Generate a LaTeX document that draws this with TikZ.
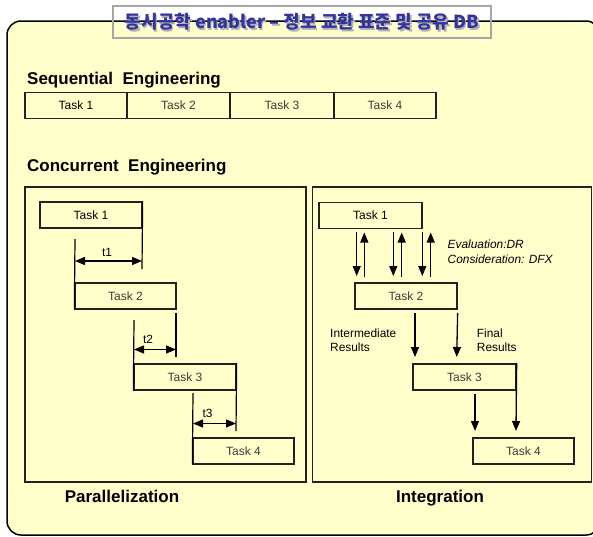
\documentclass[tikz,border=0pt]{standalone}
\usepackage{fontspec}
\setmainfont{Liberation Sans}
\newfontfamily\kor{Noto Sans CJK KR}
\usetikzlibrary{arrows.meta}
\definecolor{paper}{HTML}{FFFFCC}
\definecolor{titleblue}{HTML}{3333A0}
\definecolor{edge}{HTML}{222222}
\definecolor{soft}{HTML}{3A3A3A}
\tikzset{
  taskbox/.style={draw=edge, line width=1.3pt, minimum height=26pt, inner sep=0pt,
    font=\fontsize{12}{14}\selectfont, text=soft},
  firsttask/.style={taskbox, text=black},
  panel/.style={draw=edge, line width=1.2pt},
  guide/.style={draw=black, line width=1.2pt},
  flow/.style={draw=black, line width=1.3pt, -{Triangle[length=10pt,width=8pt]}},
  dimline/.style={draw=black, line width=1.3pt,
    {Triangle[length=10pt,width=8pt]}-{Triangle[length=10pt,width=8pt]}},
  heading/.style={font=\fontsize{17}{19}\selectfont\bfseries, inner sep=0pt, anchor=base west},
  caption/.style={font=\fontsize{17}{19}\selectfont\bfseries, inner sep=0pt, anchor=base},
  note/.style={font=\fontsize{11.9}{14}\selectfont, inner sep=0pt, anchor=base west},
  dimlabel/.style={font=\fontsize{11.9}{14}\selectfont, inner sep=0pt},
  titletext/.style={font=\kor\bfseries\fontsize{18}{20}\selectfont, inner sep=0pt},
}
\begin{document}
\begin{tikzpicture}[x=1pt, y=-1pt]
\useasboundingbox (0,0) rectangle (593,536);
\clip (0,0) rectangle (593,536);

% sheet
\draw[fill=paper, line width=1.5pt, rounded corners=14pt] (7,21) rectangle (600,535);

% title banner with drop shadow
\draw[draw=gray!70, line width=1.5pt] (113,6) rectangle (491,38);
\node[titletext, text=gray!60] at (303.5,23.5)
  {동시공학 enabler – 정보 교환 표준 및 공유 DB};
\node[titletext, text=titleblue] (title) at (302,22)
  {동시공학 enabler – 정보 교환 표준 및 공유 DB};

% sequential engineering
\node[heading] (seqhead) at (27,84) {Sequential\ \ Engineering};
\node[firsttask, minimum width=102pt] (s1) at (76,105.5) {Task 1};
\node[taskbox, minimum width=103pt] (s2) at (178.5,105.5) {Task 2};
\node[taskbox, minimum width=104pt] (s3) at (282,105.5) {Task 3};
\node[taskbox, minimum width=102pt] (s4) at (385,105.5) {Task 4};

% concurrent engineering
\node[heading] (conhead) at (27,171.5) {Concurrent\ \ Engineering};
\draw[panel] (25,187) rectangle (306,482);
\draw[panel] (312.5,187) rectangle (591.5,482);

% parallelization panel
\node[firsttask, minimum width=102pt] (p1) at (91,215) {Task 1};
\node[taskbox, minimum width=101pt] (p2) at (125.5,296) {Task 2};
\node[taskbox, minimum width=102pt] (p3) at (185,377) {Task 3};
\node[taskbox, minimum width=101pt] (p4) at (243.5,451) {Task 4};

\coordinate (g1top) at (75,239);
\coordinate (g1end) at (142,269);
\coordinate (g2top) at (134,320);
\coordinate (g2beg) at (176,312.5);
\coordinate (g2end) at (176,357);
\coordinate (g3top) at (193,393);
\coordinate (g3end) at (236,431);
\draw[guide] (g1top) -- (p2.south west);
\draw[guide] (p1.north east) -- (g1end);
\draw[guide] (g2top) -- (p3.south west);
\draw[guide] (g2beg) -- (g2end);
\draw[guide] (g3top) -- (p4.south west);
\draw[guide] (p3.north east) -- (g3end);

\coordinate (d1a) at (75,261);   \coordinate (d1b) at (142,261);
\coordinate (d2a) at (134,349.5); \coordinate (d2b) at (176,349.5);
\coordinate (d3a) at (193,423.5); \coordinate (d3b) at (236,423.5);
\draw[dimline] (d1a) -- (d1b);
\draw[dimline] (d2a) -- (d2b);
\draw[dimline] (d3a) -- (d3b);
\node[dimlabel] (t1) at (107,252) {t1};
\node[dimlabel] (t2) at (148,339.5) {t2};
\node[dimlabel] (t3) at (207.5,413.5) {t3};

\node[caption] (partext) at (122,502.5) {Parallelization};

% integration panel
\node[firsttask, minimum width=103pt] (i1) at (370.5,215.5) {Task 1};
\node[taskbox, minimum width=102pt] (i2) at (406,296) {Task 2};
\node[taskbox, minimum width=103pt] (i3) at (464.5,377) {Task 3};
\node[taskbox, minimum width=101pt] (i4) at (523.5,451) {Task 4};

% design reviews between task 1 and task 2
\foreach \dx/\ux in {356.7/364.3, 393.3/401.7, 422.3/430.7}{
  \draw[flow] (\dx,231.5) -- (\dx,276);
  \draw[flow] (\ux,277) -- (\ux,232.5);
}
\node[note, font=\fontsize{11.9}{14}\selectfont\itshape] (eval) at (447.5,248.5) {Evaluation:DR};
\node[note, font=\fontsize{11.9}{14}\selectfont\itshape] (cons) at (447.5,263) {Consideration: DFX};

% result hand-over
\coordinate (r1a) at (415,312.5);   \coordinate (r1b) at (415,357);
\coordinate (r2b) at (456.7,357);
\draw[flow] (r1a) -- (r1b);
\draw[flow] (i2.south east) ++(0,3.2) -- (r2b);
\node[note] (inter1) at (330,337) {Intermediate};
\node[note] (inter2) at (330,351.6) {Results};
\node[note] (final1) at (476.7,337) {Final};
\node[note] (final2) at (476.7,351.6) {Results};

\coordinate (r3a) at (475,393.5);   \coordinate (r3b) at (475,431);
\coordinate (r4b) at (516,431);
\draw[flow] (r3a) -- (r3b);
\draw[flow] (i3.north east) -- (r4b);

\node[caption] (inttext) at (440,502.5) {Integration};
\end{tikzpicture}
\end{document}
